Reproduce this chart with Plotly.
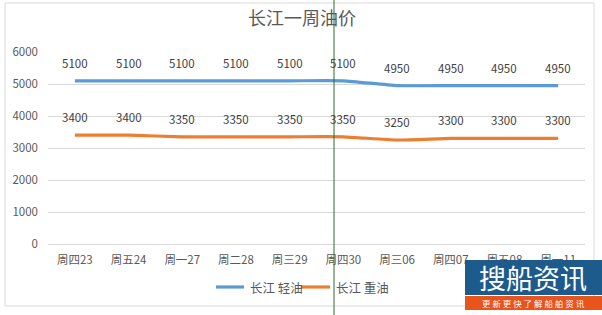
import plotly.graph_objects as go

categories = ["周四23", "周五24", "周一27", "周二28", "周三29", "周四30", "周三06", "周四07", "周五08", "周一11"]
light_oil = [5100, 5100, 5100, 5100, 5100, 5100, 4950, 4950, 4950, 4950]
heavy_oil = [3400, 3400, 3350, 3350, 3350, 3350, 3250, 3300, 3300, 3300]
series_names = ["长江 轻油", "长江 重油"]
title_text = "长江一周油价"
y_ticks = [0, 1000, 2000, 3000, 4000, 5000, 6000]

FONT = "Noto Sans CJK SC, Lato, sans-serif"
GRAY = "#595959"
BLUE = "#5B9BD5"
ORANGE = "#ED7D31"
COLORS = [BLUE, ORANGE]

fig = go.Figure()
for name, series, color in zip(series_names, (light_oil, heavy_oil), COLORS):
    fig.add_trace(go.Scatter(x=categories, y=series, mode="lines", name=name, showlegend=False,
                             line=dict(color=color, width=3.2, shape="spline", smoothing=0.5)))


def px_x(p):
    return (p - 48) / 537


def px_y(p):
    return (244 - p) / 192


annotations = []
for series in (light_oil, heavy_oil):
    for c, v in zip(categories, series):
        annotations.append(dict(x=c, y=v, xref="x", yref="y", text=str(v), showarrow=False,
                                yshift=18, font=dict(family=FONT, size=11.5, color="#404040")))

shapes = [
    # outer chart border
    dict(type="rect", xref="paper", yref="paper", x0=px_x(5), x1=px_x(594), y0=px_y(306), y1=px_y(3),
         line=dict(color="#D9D9D9", width=1), layer="below"),
]

# manual legend
legend_items = [(216, 244, 248), (301, 330, 334)]
for (lx0, lx1, tx), name, color in zip(legend_items, series_names, COLORS):
    shapes.append(dict(type="line", xref="paper", yref="paper", x0=px_x(lx0), x1=px_x(lx1),
                       y0=px_y(287), y1=px_y(287), line=dict(color=color, width=3.2)))
    annotations.append(dict(x=px_x(tx), y=px_y(287), xref="paper", yref="paper", text=name,
                            showarrow=False, xanchor="left", yanchor="middle",
                            font=dict(family=FONT, size=12.5, color=GRAY)))

shapes += [
    # green vertical line
    dict(type="line", xref="paper", yref="paper", x0=px_x(334), x1=px_x(334), y0=px_y(315), y1=px_y(0),
         line=dict(color="#2E6B2E", width=1), layer="above"),
    # logo blue box
    dict(type="rect", xref="paper", yref="paper", x0=px_x(465), x1=px_x(602), y0=px_y(295), y1=px_y(260),
         fillcolor="#1C5B8C", line=dict(width=0), layer="above"),
    # logo orange strip
    dict(type="rect", xref="paper", yref="paper", x0=px_x(465), x1=px_x(602), y0=px_y(310), y1=px_y(296),
         fillcolor="#E8541C", line=dict(width=0), layer="above"),
]

# watermark logo text
annotations.append(dict(x=px_x(533), y=px_y(277), xref="paper", yref="paper",
                        text="搜船资讯", showarrow=False, xanchor="center", yanchor="middle",
                        font=dict(family=FONT, size=27, color="white")))
annotations.append(dict(x=px_x(533), y=px_y(303), xref="paper", yref="paper",
                        text="更 新 更 快 了 解 船 舶 资 讯", showarrow=False, xanchor="center", yanchor="middle",
                        font=dict(family=FONT, size=8.5, color="white")))

fig.update_layout(
    width=602, height=315,
    margin=dict(l=48, r=17, t=52, b=71),
    paper_bgcolor="white", plot_bgcolor="white",
    title=dict(text=title_text, x=302 / 602, xanchor="center", y=1 - 19 / 315, yanchor="middle",
               font=dict(family=FONT, size=18, color=GRAY)),
    font=dict(family=FONT, color=GRAY, size=11),
    xaxis=dict(type="category", range=[-0.5, 9.5], showgrid=False, showline=False, ticks="",
               tickfont=dict(family=FONT, size=11.5, color=GRAY), zeroline=False, ticklabelstandoff=7),
    yaxis=dict(range=[0, 6000], tickvals=y_ticks, showgrid=True, gridcolor="#D9D9D9", gridwidth=1,
               zeroline=True, zerolinecolor="#D9D9D9", zerolinewidth=1,
               tickfont=dict(family=FONT, size=11.5, color=GRAY), ticks="", ticklabelstandoff=9),
    showlegend=False,
    annotations=annotations,
    shapes=shapes,
)

fig.write_html("out.html")
